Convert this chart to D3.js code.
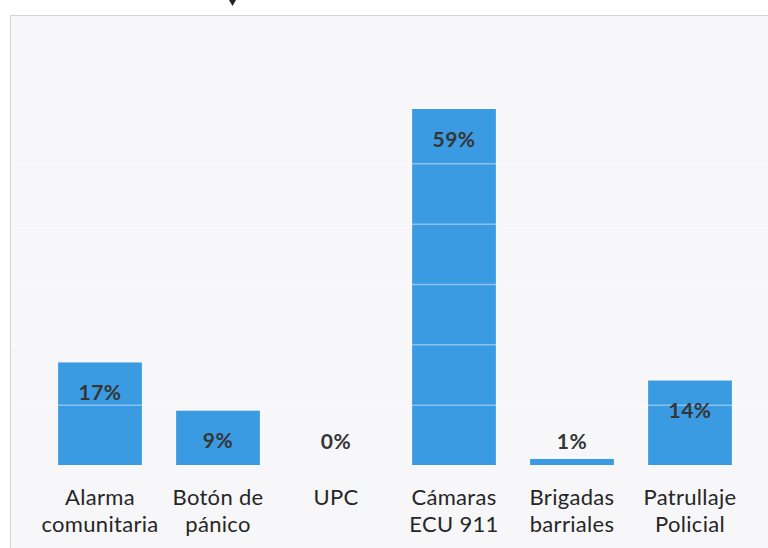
<!doctype html>
<html>
  <head>
    <meta charset="utf-8">
    <script src="https://cdnjs.cloudflare.com/ajax/libs/d3/7.8.5/d3.min.js"></script>
    <style>
      body { margin: 0; background: #ffffff; }
      svg { display: block; }
    </style>
  </head>
  <body>
    <svg></svg>
    <script>
      var width = 768,
          height = 548;

      // datos
      var categories = [
        ["Alarma", "comunitaria"],
        ["Botón de", "pánico"],
        ["UPC"],
        ["Cámaras", "ECU 911"],
        ["Brigadas", "barriales"],
        ["Patrullaje", "Policial"]
      ];
      var values = [17, 9, 0, 59, 1, 14];
      var gridTicks = [10, 20, 30, 40, 50];

      var svg = d3.select("svg").attr("width", width).attr("height", height);

      // fondo y marco del grafico
      svg.append("rect")
        .attr("x", 10).attr("y", 15)
        .attr("width", width - 10).attr("height", height - 15)
        .attr("fill", "#f7f7f9");
      svg.append("path")
        .attr("d", "M10.5," + height + "V15.5H" + width)
        .attr("fill", "none")
        .attr("stroke", "#d4d4d8")
        .attr("stroke-width", 1);

      // pequeña marca en la parte superior
      svg.append("path")
        .attr("d", "M229,0L236,0L232.5,6Z")
        .attr("fill", "#222");

      var x = d3.scaleBand()
          .domain(d3.range(values.length))
          .range([41, 749])
          .paddingInner(0.29)
          .paddingOuter(0.145);

      var y = d3.scaleLinear()
          .domain([0, 59])
          .range([465, 109]);

      // barras
      svg.selectAll("rect.bar").data(values)
        .enter()
        .append("rect")
          .attr("class", "bar")
          .attr("x", function(d, i) { return x(i); })
          .attr("y", function(d) { return y(d); })
          .attr("width", x.bandwidth())
          .attr("height", function(d) { return y(0) - y(d); })
          .attr("fill", "#3b9be2");

      // lineas de division (visibles sobre las barras)
      svg.selectAll("line.grid").data(gridTicks)
        .enter()
        .append("line")
          .attr("class", "grid")
          .attr("x1", 11).attr("x2", width)
          .attr("y1", function(d) { return y(d) + 0.5; })
          .attr("y2", function(d) { return y(d) + 0.5; })
          .attr("stroke", "#ffffff")
          .attr("stroke-opacity", 0.4)
          .attr("stroke-width", 1.5);

      // etiquetas de valor
      svg.selectAll("text.val").data(values)
        .enter()
        .append("text")
          .attr("class", "val")
          .attr("x", function(d, i) { return x(i) + x.bandwidth() / 2; })
          .attr("y", function(d) { return Math.min(y(d) + 30, y(0) - 24); })
          .attr("dy", "0.36em")
          .attr("text-anchor", "middle")
          .style("font-family", "Lato, 'Open Sans', sans-serif")
          .style("font-weight", "bold")
          .style("font-size", "21px")
          .style("letter-spacing", "0.5px")
          .style("fill", "#353535")
          .text(function(d) { return d + "%"; });

      // etiquetas de categoria
      var cat = svg.selectAll("text.cat").data(categories)
        .enter()
        .append("text")
          .attr("class", "cat")
          .attr("text-anchor", "middle")
          .style("font-family", "Lato, 'Open Sans', sans-serif")
          .style("font-size", "22px")
          .style("letter-spacing", "0.3px")
          .style("fill", "#262626");
      cat.selectAll("tspan").data(function(d, i) {
          return d.map(function(t) { return { t: t, i: i }; });
        })
        .enter()
        .append("tspan")
          .attr("x", function(d) { return x(d.i) + x.bandwidth() / 2; })
          .attr("y", function(d, j) { return 505 + j * 27; })
          .text(function(d) { return d.t; });
    </script>
  </body>
</html>
